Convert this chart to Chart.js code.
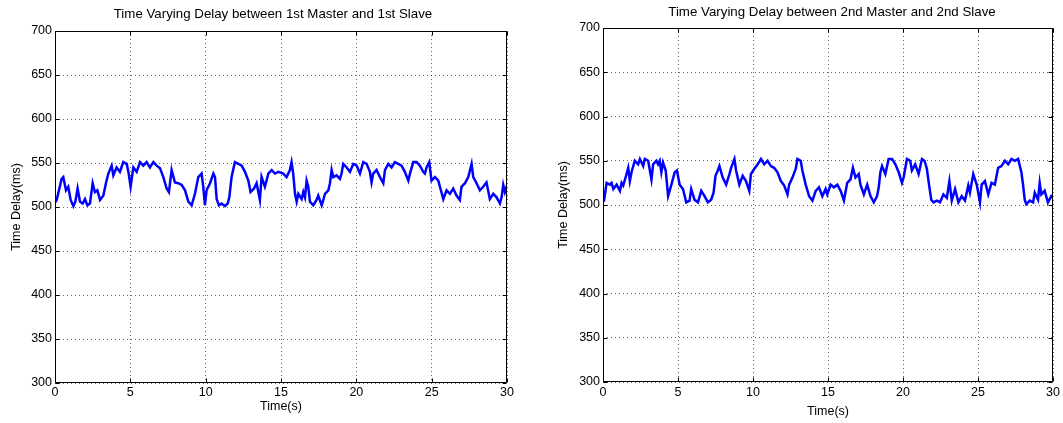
<!DOCTYPE html>
<html>
<head>
<meta charset="utf-8">
<script src="https://cdn.jsdelivr.net/npm/chart.js@4/dist/chart.umd.min.js"></script>
<style>
  html, body { margin: 0; padding: 0; background: #fff; }
  #wrap { position: relative; width: 1063px; height: 423px; }
  canvas { position: absolute; top: 0; }
  #delayChart1 { left: 0; }
  #delayChart2 { left: 531px; }
</style>
</head>
<body>
<div id="wrap">
  <canvas id="delayChart1" width="531" height="423"></canvas>
  <canvas id="delayChart2" width="532" height="423"></canvas>
</div>
<script>
// axis ticks
const timeTicks = [0, 5, 10, 15, 20, 25, 30];
const delayTicks = [300, 350, 400, 450, 500, 550, 600, 650, 700];

// 1st master -> 1st slave
const time1 = [
  0, 0.11, 0.44, 0.55, 0.73, 0.88, 1.04, 1.22, 1.35, 1.50,
  1.66, 1.84, 1.99, 2.15, 2.32, 2.50, 2.65, 2.81, 2.99, 3.21,
  3.38, 3.54, 3.76, 3.87, 4.09, 4.31, 4.53, 4.76, 4.89, 5.02,
  5.20, 5.42, 5.64, 5.86, 6.08, 6.30, 6.53, 6.75, 6.97, 7.19,
  7.41, 7.56, 7.74, 7.96, 8.18, 8.41, 8.63, 8.85, 9.07, 9.29,
  9.51, 9.73, 9.84, 9.95, 10.06, 10.29, 10.51, 10.62, 10.73, 10.88,
  11.06, 11.28, 11.46, 11.57, 11.72, 11.94, 12.17, 12.39, 12.61, 12.83,
  12.98, 13.21, 13.38, 13.60, 13.71, 13.93, 14.16, 14.38, 14.60, 14.82,
  15.15, 15.37, 15.59, 15.70, 15.81, 15.93, 16.04, 16.15, 16.37, 16.48,
  16.59, 16.70, 16.81, 16.92, 17.14, 17.36, 17.47, 17.70, 17.81, 17.92,
  18.14, 18.25, 18.36, 18.47, 18.69, 18.91, 19.02, 19.13, 19.35, 19.58,
  19.80, 20.02, 20.24, 20.46, 20.68, 20.90, 21.01, 21.12, 21.34, 21.57,
  21.79, 21.90, 22.12, 22.34, 22.56, 22.78, 23.00, 23.22, 23.45, 23.56,
  23.78, 24.00, 24.22, 24.44, 24.55, 24.66, 24.84, 24.99, 25.22, 25.44,
  25.55, 25.77, 25.99, 26.21, 26.43, 26.65, 26.87, 26.98, 27.21, 27.43,
  27.65, 27.76, 27.98, 28.20, 28.42, 28.64, 28.86, 29.09, 29.31, 29.53,
  29.64, 29.75, 29.86, 29.97, 30
];
const delay1 = [
  505, 508, 532, 534, 519, 523, 508, 501, 506, 521,
  506, 504, 509, 502, 504, 527, 517, 519, 508, 513,
  527, 538, 547, 536, 545, 540, 551, 549, 538, 523,
  545, 540, 551, 547, 551, 545, 551, 547, 544, 534,
  521, 517, 542, 528, 527, 525, 519, 506, 502, 515,
  534, 538, 523, 502, 519, 527, 538, 534, 509, 502,
  504, 501, 504, 511, 534, 551, 549, 547, 540, 530,
  517, 521, 527, 508, 534, 523, 538, 542, 538, 540,
  538, 534, 542, 551, 538, 515, 506, 515, 509, 517,
  511, 530, 523, 506, 502, 508, 513, 502, 508, 515,
  519, 527, 542, 534, 536, 532, 538, 549, 545, 540,
  549, 547, 538, 551, 549, 540, 528, 538, 542, 534,
  527, 542, 549, 545, 551, 549, 547, 540, 530, 538,
  551, 551, 547, 540, 538, 545, 551, 530, 534, 530,
  523, 509, 519, 515, 521, 513, 508, 523, 527, 534,
  549, 534, 527, 519, 523, 528, 509, 515, 511, 504,
  511, 525, 517, 523, 520
];

// 2nd master -> 2nd slave
const time2 = [
  0, 0.07, 0.24, 0.46, 0.57, 0.69, 0.91, 1.13, 1.24, 1.35,
  1.57, 1.68, 1.79, 1.90, 2.12, 2.34, 2.46, 2.68, 2.79, 3.01,
  3.23, 3.34, 3.56, 3.67, 3.78, 3.89, 4.00, 4.18, 4.34, 4.56,
  4.78, 4.93, 5.11, 5.33, 5.55, 5.77, 5.88, 6.10, 6.33, 6.55,
  6.77, 6.99, 7.21, 7.37, 7.50, 7.65, 7.76, 7.98, 8.21, 8.43,
  8.54, 8.76, 8.87, 9.09, 9.31, 9.53, 9.75, 9.86, 10.09, 10.31,
  10.53, 10.75, 10.97, 11.19, 11.41, 11.63, 11.86, 12.08, 12.30, 12.41,
  12.63, 12.85, 12.96, 13.18, 13.29, 13.51, 13.74, 13.96, 14.18, 14.40,
  14.62, 14.84, 14.95, 15.17, 15.39, 15.62, 15.84, 16.06, 16.28, 16.50,
  16.66, 16.83, 17.05, 17.16, 17.39, 17.61, 17.83, 18.05, 18.27, 18.38,
  18.49, 18.60, 18.82, 19.04, 19.27, 19.49, 19.71, 19.93, 20.04, 20.26,
  20.48, 20.59, 20.81, 21.04, 21.26, 21.43, 21.59, 21.70, 21.88, 22.03,
  22.25, 22.47, 22.69, 22.92, 23.09, 23.25, 23.47, 23.69, 23.91, 24.13,
  24.35, 24.46, 24.68, 24.91, 25.13, 25.24, 25.46, 25.68, 25.90, 26.12,
  26.34, 26.56, 26.79, 27.01, 27.23, 27.45, 27.67, 27.89, 28.00, 28.11,
  28.22, 28.45, 28.67, 28.78, 29.00, 29.11, 29.22, 29.44, 29.66, 29.88,
  30
];
const delay2 = [
  505, 505, 525, 523, 525, 518, 523, 516, 525, 522,
  535, 542, 527, 537, 550, 546, 552, 544, 552, 550,
  529, 546, 550, 546, 550, 537, 548, 539, 510, 523,
  537, 539, 523, 518, 503, 505, 518, 506, 503, 516,
  510, 503, 506, 514, 533, 539, 544, 531, 523, 535,
  542, 552, 539, 523, 533, 527, 516, 535, 541, 546,
  552, 546, 550, 544, 542, 537, 527, 522, 512, 523,
  531, 541, 552, 550, 539, 523, 510, 505, 516, 520,
  510, 518, 512, 523, 520, 523, 516, 505, 525, 529,
  542, 531, 535, 523, 512, 523, 510, 503, 510, 520,
  537, 544, 535, 552, 552, 546, 537, 525, 531, 552,
  550, 539, 546, 535, 552, 550, 541, 527, 506, 503,
  505, 503, 512, 508, 527, 505, 518, 503, 510, 505,
  522, 514, 535, 523, 503, 523, 527, 512, 525, 523,
  542, 544, 550, 546, 552, 550, 552, 537, 523, 506,
  501, 505, 503, 514, 506, 525, 512, 516, 503, 510,
  508
];

Chart.defaults.font.family = '"Liberation Sans", Arial, Helvetica, sans-serif';
Chart.defaults.font.size = 12.5;
Chart.defaults.color = '#000';

// axes box, inward tick marks and the plot title
const axesBox = {
  id: 'axesBox',
  afterDraw(chart, args, opts) {
    const {ctx, chartArea: a, scales} = chart;
    const L = Math.round(a.left) + 0.5, R = Math.round(a.right) - 0.5;
    const T = Math.round(a.top) + 0.5, B = Math.round(a.bottom) - 0.5;
    ctx.save();
    ctx.strokeStyle = '#000';
    ctx.lineWidth = 1;
    ctx.beginPath();
    ctx.rect(L, T, R - L, B - T);
    for (const v of timeTicks) {
      const x = Math.round(scales.x.getPixelForValue(v)) + 0.5;
      ctx.moveTo(x, B); ctx.lineTo(x, B - 4);
      ctx.moveTo(x, T); ctx.lineTo(x, T + 4);
    }
    for (const v of delayTicks) {
      const y = Math.round(scales.y.getPixelForValue(v)) + 0.5;
      ctx.moveTo(L, y); ctx.lineTo(L + 4, y);
      ctx.moveTo(R, y); ctx.lineTo(R - 4, y);
    }
    ctx.stroke();
    ctx.font = '13.3px "Liberation Sans", Arial, sans-serif';
    ctx.fillStyle = '#000';
    ctx.textAlign = 'center';
    ctx.textBaseline = 'middle';
    ctx.fillText(opts.text, opts.x, opts.y);
    ctx.restore();
  }
};

function makeChart(id, times, delays, cfg) {
  return new Chart(document.getElementById(id), {
    type: 'line',
    data: {
      datasets: [{
        data: times.map((t, i) => ({x: t, y: delays[i]})),
        borderColor: '#0000ff',
        borderWidth: 2.5,
        pointRadius: 0,
        tension: 0
      }]
    },
    options: {
      responsive: false,
      animation: false,
      layout: {padding: {left: 0, right: cfg.padRight, top: cfg.padTop, bottom: 0}},
      plugins: {
        legend: {display: false},
        tooltip: {enabled: false},
        axesBox: {text: cfg.title, x: cfg.titleX, y: cfg.titleY}
      },
      scales: {
        x: {
          type: 'linear', min: 0, max: 30,
          afterBuildTicks: s => { s.ticks = timeTicks.map(v => ({value: v})); },
          afterFit: s => { s.height = cfg.xHeight; },
          grid: {color: 'rgba(0,0,0,0.6)', drawTicks: false},
          border: {display: false, dash: [1, 3]},
          ticks: {padding: cfg.xTickPad, maxRotation: 0},
          title: {display: true, text: 'Time(s)', padding: {top: 0, bottom: cfg.xTitlePad}}
        },
        y: {
          min: 300, max: 700,
          afterBuildTicks: s => { s.ticks = delayTicks.map(v => ({value: v})); },
          afterFit: s => { s.width = cfg.yWidth; },
          grid: {color: 'rgba(0,0,0,0.6)', drawTicks: false},
          border: {display: false, dash: [1, 3]},
          ticks: {padding: 3},
          title: {display: true, text: 'Time Delay(ms)', padding: {top: cfg.yTitlePad, bottom: 0}}
        }
      }
    },
    plugins: [axesBox]
  });
}

makeChart('delayChart1', time1, delay1, {
  title: 'Time Varying Delay between 1st Master and 1st Slave',
  titleX: 273, titleY: 14,
  padTop: 31, padRight: 24, yWidth: 55, xHeight: 40,
  xTickPad: 2, xTitlePad: 8.5, yTitlePad: 9
});
makeChart('delayChart2', time2, delay2, {
  title: 'Time Varying Delay between 2nd Master and 2nd Slave',
  titleX: 301, titleY: 12,
  padTop: 28, padRight: 8, yWidth: 72, xHeight: 41,
  xTickPad: 3, xTitlePad: 3.5, yTitlePad: 25
});
</script>
</body>
</html>
